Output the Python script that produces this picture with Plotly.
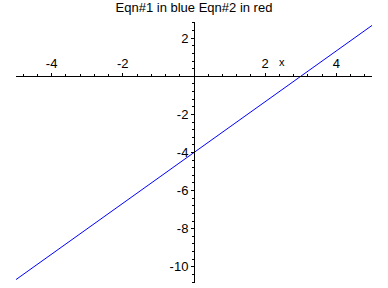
import plotly.graph_objects as go

# Data
x_vals = [-5, 0, 3, 5]
y_vals = [-10.67, -4.0, 0.0, 2.67]

x_ticks = [-4, -2, 2, 4]
x_tick_labels = ["-4", "-2", "2", "4"]
y_ticks = [2, -2, -4, -6, -8, -10]
y_tick_labels = ["2", "-2", "-4", "-6", "-8", "-10"]

title_text = "Eqn#1 in blue Eqn#2 in red"
x_label = "x"

x_range = [-5, 5]
y_range = [-10.85, 2.85]

fig = go.Figure()
fig.add_trace(go.Scatter(x=x_vals, y=y_vals, mode="lines",
                         line=dict(color="#0000ff", width=1),
                         showlegend=False, hoverinfo="skip"))

font = dict(family="Liberation Sans, Arial, sans-serif", color="black")

x_pos = (0 - y_range[0]) / (y_range[1] - y_range[0])
y_pos = (0 - x_range[0]) / (x_range[1] - x_range[0])

fig.update_layout(
    width=388, height=288,
    margin=dict(l=16, r=16, t=22, b=5),
    paper_bgcolor="white", plot_bgcolor="white",
    font=dict(size=12, **font),
    title=dict(text=title_text, x=0.5, xanchor="center",
               y=1 - 7 / 288, yanchor="middle", yref="container",
               font=dict(size=13, **font)),
    xaxis=dict(range=x_range, anchor="free", position=x_pos, side="top",
               showline=True, linecolor="black", linewidth=1,
               showgrid=False, zeroline=False,
               tickmode="array", tickvals=x_ticks, ticktext=x_tick_labels,
               ticks="outside", ticklen=3, tickcolor="black", tickwidth=1,
               tickfont=dict(size=13, **font),
               minor=dict(tickmode="linear", tick0=0, dtick=0.4,
                          ticks="outside", ticklen=2, tickcolor="black",
                          showgrid=False)),
    yaxis=dict(range=y_range, anchor="free", position=y_pos, side="left",
               showline=True, linecolor="black", linewidth=1,
               showgrid=False, zeroline=False,
               tickmode="array", tickvals=y_ticks, ticktext=y_tick_labels,
               ticks="outside", ticklen=3, tickcolor="black", tickwidth=1,
               tickfont=dict(size=13, **font),
               minor=dict(tickmode="linear", tick0=0, dtick=0.4,
                          ticks="outside", ticklen=2, tickcolor="black",
                          showgrid=False)),
    annotations=[dict(text=x_label, x=2.47, y=0, xref="x", yref="y",
                      yshift=14, showarrow=False,
                      font=dict(size=11, **font))],
)

fig.write_html("out.html")
